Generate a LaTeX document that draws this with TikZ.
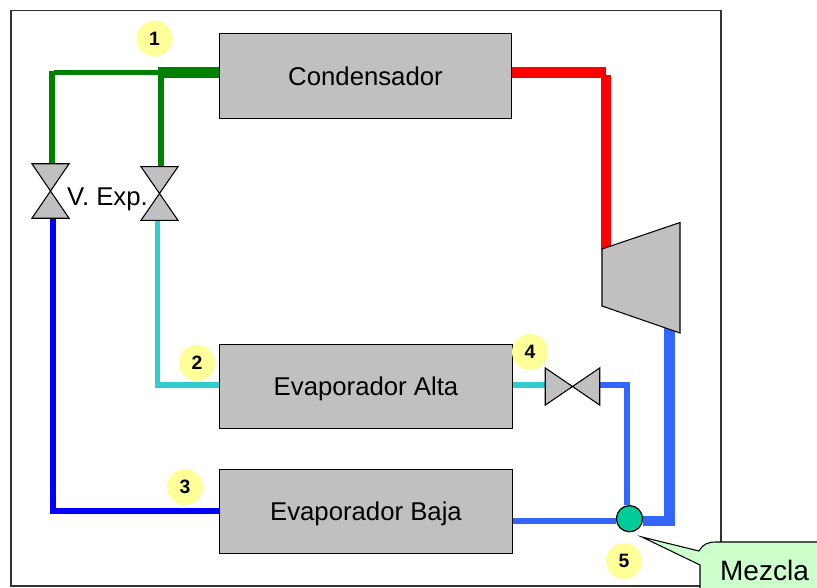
\documentclass[tikz,border=0pt]{standalone}
\usepackage{fontspec}
\setmainfont{Liberation Sans}
\definecolor{boxgray}{HTML}{C0C0C0}
\definecolor{pipegreen}{HTML}{008000}
\definecolor{pipecyan}{HTML}{33CCCC}
\definecolor{pipeblue}{HTML}{0000FF}
\definecolor{pipemid}{HTML}{3366FF}
\definecolor{mixgreen}{HTML}{00CC99}
\definecolor{badgeyellow}{HTML}{FFFF99}
\definecolor{calloutgreen}{HTML}{CCFFCC}
\tikzset{
  unit/.style={draw=black,line width=0.9pt,fill=boxgray,minimum width=219.5pt,minimum height=63.5pt,inner sep=0pt,text height=14pt,text depth=0pt,font=\fontsize{19.3}{22}\selectfont},
  badge/.style={circle,fill=badgeyellow,minimum size=27pt,inner sep=0pt,font=\fontsize{14.5}{16}\selectfont\bfseries},
  body/.style={draw=black,line width=0.8pt,fill=boxgray,line join=miter},
  thin/.style={line width=3.8pt},
  thick/.style={line width=8.2pt},
  label/.style={inner sep=0pt,text height=14pt,text depth=0pt,font=\fontsize{19.3}{22}\selectfont}
}
\begin{document}
\begin{tikzpicture}[x=0.75pt,y=-0.75pt]
\clip (0,0) rectangle (817,587);
\fill[white] (0,0) rectangle (817,587);
\draw[draw=black!80,line width=0.8pt] (11,10.5) rectangle (721,586);

% units
\node[unit] (cond) at (365.5,76) {Condensador};
\node[unit] (alta) at (366,386.5) {Evaporador Alta};
\node[unit] (baja) at (366,511.5) {Evaporador Baja};

% valve frames
\node[inner sep=0pt,minimum width=27.5pt,minimum height=40.5pt] (v1) at (50.5,191) {};
\node[inner sep=0pt,minimum width=27.5pt,minimum height=40pt] (v2) at (159.5,193.5) {};
\node[inner sep=0pt,minimum width=40.5pt,minimum height=27.5pt] (v3) at (572.5,386.5) {};
\node[circle,draw=black,line width=0.8pt,fill=mixgreen,minimum size=19.5pt,inner sep=0pt] (mix) at (629.5,518.7) {};

% junction and elbow points
\coordinate (condL) at (219,72.5);
\coordinate (jG) at (158,72.5);
\coordinate (jG2) at (161,72.5);
\coordinate (cG) at (54,72.5);
\coordinate (cGv) at (52,71);
\coordinate (v1top) at (52,164.5);
\coordinate (v2top) at (161,167.5);
\coordinate (v1bot) at (53,217.5);
\coordinate (v2bot) at (157.5,220);
\coordinate (condR) at (512,72.5);
\coordinate (cR) at (606,72.5);
\coordinate (cRv) at (606,75);
\coordinate (turbIn) at (606,250);
\coordinate (turbOut) at (669.5,325);
\coordinate (cB) at (669.5,521);
\coordinate (cBh) at (675,521);
\coordinate (altaL) at (219,385);
\coordinate (bajaL) at (219,511);
\coordinate (altaR) at (513,385);
\coordinate (bajaR) at (513,521);
\coordinate (cM) at (627,385);

% pipes
\draw[pipegreen,thick] (condL) -- (jG);
\draw[pipegreen,thin] (jG) -- (cG);
\draw[pipegreen,thin] (cGv) -- (v1top);
\draw[pipegreen,thin] (jG2) -- (v2top);
\draw[pipeblue,thin] (v1bot) -- (v1bot |- bajaL) -- (bajaL);
\draw[pipecyan,thin] (v2bot) -- (v2bot |- altaL) -- (altaL);
\draw[pipecyan,thin] (altaR) -- (v3.west |- altaR);
\draw[pipemid,thin] (v3.east |- altaR) -- (cM) -- (mix.north -| cM);
\draw[pipemid,thin] (bajaR) -- (mix.west |- bajaR);
\draw[pipemid,thick] (mix.east |- cB) -- (cBh);
\draw[pipemid,thick] (cB) -- (turbOut);
\draw[red,thick] (condR) -- (cR);
\draw[red,thick] (cRv) -- (turbIn);

% valves and turbine
\draw[body] (v1.north west) -- (v1.north east) -- (v1.south west) -- (v1.south east) -- cycle;
\draw[body] (v2.north west) -- (v2.north east) -- (v2.south west) -- (v2.south east) -- cycle;
\draw[body] (v3.north west) -- (v3.south west) -- (v3.north east) -- (v3.south east) -- cycle;
\draw[body] (602,249) -- (680,222.5) -- (680,333) -- (602,306) -- cycle;
\node[circle,draw=black,line width=0.8pt,fill=mixgreen,minimum size=19.5pt,inner sep=0pt] at (mix) {};

% labels
\node[label] (vexp) at (107.5,196) {V. Exp.};
\node[badge] (b1) at (154.5,38.5) {1};
\node[badge] (b2) at (197,363) {2};
\node[badge] (b3) at (185,487) {3};
\node[badge] (b4) at (530,352) {4};
\node[badge] (b5) at (624,561) {5};

% callout
\coordinate (tip) at (642,537);
\draw[draw=black,line width=0.8pt,fill=calloutgreen,line join=miter]
  (tip) -- (699,551) .. controls (703,544) and (708,542) .. (716,542) -- (830,542)
  -- (830,600) -- (700,600) -- (700,565) -- cycle;
\node[inner sep=0pt,anchor=base,font=\fontsize{21}{24}\selectfont] (mez) at (764.5,580) {Mezcla};
\end{tikzpicture}
\end{document}
